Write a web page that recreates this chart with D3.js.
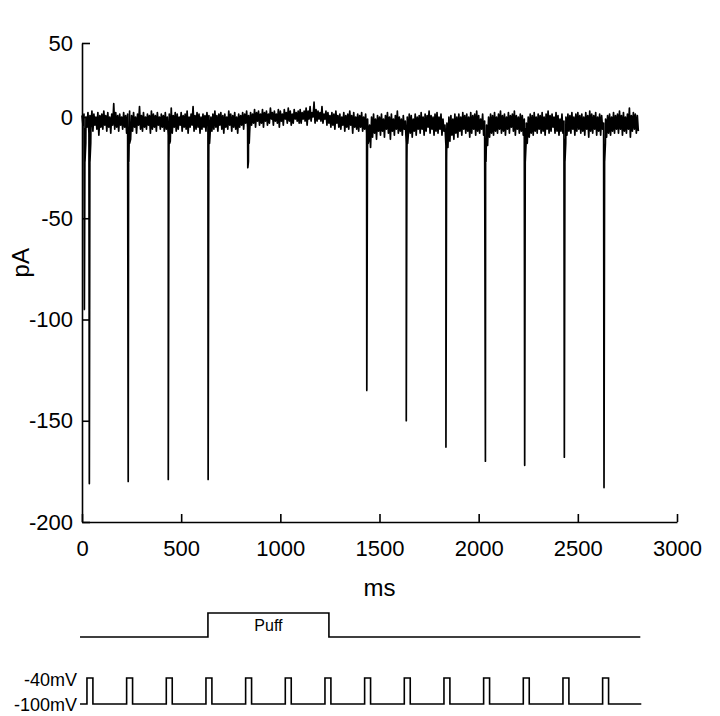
<!DOCTYPE html>
<html>
<head>
<meta charset="utf-8">
<script src="https://cdn.jsdelivr.net/npm/d3@7"></script>
<style>
  body { margin: 0; background: #fff; }
  svg { display: block; font-family: "Liberation Sans", Arial, Helvetica, sans-serif; }
  .axis path, .axis line { stroke: #000; stroke-width: 1.6; }
  .axis text { font-size: 22px; fill: #000; }
</style>
</head>
<body>
<svg id="chart" width="720" height="716"></svg>
<script>
// Holding current (pA), read as local highs and lows every 10 ms from 0 to 2800 ms.
// The trace alternates high (at t) and low (at t + 5 ms).
const sampleStep = 10;
const currentHi = [
  1, 2, 0, 3, 1, 4, 2, 0, 3, 1,
  2, 4, 1, 3, 0, 2, 9, 3, 1, 2,
  0, 3, 1, 2, 4, 1, 3, 0, 2, 7,
  1, 3, 0, 2, 1, 4, 2, 1, 3, 0,
  2, 1, 3, 0, 2, 6, 1, 3, 2, 0,
  3, 1, 2, 4, 0, 2, 7, 1, 3, 2,
  0, 2, 1, 3, 1, 0, 2, 4, 1, 2,
  3, 1, 2, 0, 4, 2, 1, 3, 0, 2,
  1, 3, 2, 4, 1, 3, 2, 5, 3, 4,
  2, 5, 3, 4, 2, 6, 3, 4, 2, 5,
  4, 2, 5, 3, 6, 4, 2, 5, 3, 4,
  5, 3, 4, 6, 4, 7, 3, 10, 5, 4,
  3, 7, 2, 4, 3, 1, 3, 2, 4, 1,
  2, 0, 3, 1, 2, 4, 1, 3, 0, 2,
  1, 3, 0, 2, -1, -4, 0, 2, -1, 1,
  0, 2, -1, 1, 3, 0, 2, -1, 1, 4,
  0, -1, 1, -2, 0, 2, 1, -1, 2, 0,
  1, 3, 0, 2, 1, 4, 1, 0, 2, 3,
  0, 2, -1, -4, -3, 0, 1, -1, 2, 0,
  2, 0, 3, 1, 2, 0, 3, 1, 2, 4,
  1, -1, 2, -2, -4, 0, 2, 1, 3, 0,
  2, 4, 1, 2, 0, 3, 1, 2, 4, 1,
  0, 2, 1, -1, -3, 0, 2, 1, 3, 0,
  2, 1, 3, 0, 2, 4, 1, 2, 0, 3,
  1, -1, 2, -2, 0, 2, 1, 3, 0, 2,
  3, 1, 2, 0, 3, 1, 4, 2, 1, 3,
  0, 2, 1, -3, -1, 1, 2, 0, 3, 1,
  2, 4, 1, 3, 0, 2, 6, 1, 3, 2,
  1
];
const currentLo = [
  -4, -6, -5, -8, -5, -7, -4, -6, -9, -5,
  -6, -4, -7, -5, -8, -4, -6, -5, -7, -4,
  -6, -5, -8, -6, -11, -7, -5, -8, -4, -6,
  -7, -5, -6, -4, -8, -6, -5, -7, -4, -6,
  -5, -7, -6, -9, -12, -8, -5, -7, -6, -4,
  -7, -5, -6, -8, -5, -4, -7, -6, -5, -8,
  -6, -5, -7, -4, -10, -7, -6, -5, -7, -4,
  -6, -8, -5, -6, -4, -7, -5, -6, -8, -5,
  -4, -6, -3, -5, -8, -4, -3, -5, -2, -4,
  -3, -5, -2, -4, -3, -1, -4, -2, -3, -5,
  -2, -4, -1, -3, -2, -4, -3, -1, -2, -3,
  -3, -1, -2, -4, -1, -2, 0, -3, -2, -1,
  -2, -3, -1, -4, -3, -5, -4, -6, -3, -5,
  -6, -4, -7, -5, -6, -4, -8, -5, -6, -7,
  -5, -7, -6, -8, -12, -15, -10, -8, -11, -7,
  -9, -7, -10, -6, -8, -11, -7, -9, -6, -8,
  -7, -9, -6, -13, -9, -8, -10, -7, -9, -6,
  -8, -6, -9, -7, -5, -8, -6, -9, -7, -8,
  -6, -9, -7, -14, -15, -12, -9, -11, -8, -10,
  -7, -9, -6, -8, -7, -10, -8, -6, -9, -7,
  -8, -6, -9, -12, -14, -10, -8, -9, -7, -8,
  -6, -8, -7, -9, -6, -8, -5, -7, -9, -6,
  -8, -7, -9, -6, -13, -10, -8, -9, -7, -8,
  -6, -8, -7, -9, -6, -8, -7, -5, -8, -7,
  -9, -7, -8, -11, -9, -7, -8, -6, -9, -7,
  -6, -8, -7, -9, -6, -10, -7, -8, -6, -9,
  -7, -9, -6, -14, -10, -8, -9, -7, -8, -6,
  -8, -6, -9, -7, -8, -6, -10, -7, -6, -8,
  -7
];

// Inward current spikes: time (ms) and peak (pA), with the slower recovery after each one
const spikeTimes = [12, 37, 233, 435, 636, 836, 1436, 1635, 1835, 2034, 2232, 2432, 2632];
const spikePeaks = [-95, -181, -180, -179, -179, -25, -135, -150, -163, -170, -172, -168, -183];
const tailOffsets = [3, 7];
const tailValues = [-22, -13];

// Axis ticks
const xTicks = [0, 500, 1000, 1500, 2000, 2500, 3000];
const yTicks = [50, 0, -50, -100, -150, -200];

// Puff (ms)
const protocolStart = -10;
const protocolEnd = 2815;
const puffOn = 635;
const puffOff = 1245;

// Voltage steps from -100 mV to -40 mV
const pulseOnsets = [25, 225, 425, 625, 825, 1025, 1225, 1425, 1625, 1825, 2025, 2225, 2425, 2625];
const pulseWidth = 30;
const holdV = -100;
const stepV = -40;

const svg = d3.select('#chart');

const x = d3.scaleLinear().domain([0, 3000]).range([82, 677]);
const y = d3.scaleLinear().domain([-200, 0, 50]).range([522, 117, 43]);

// Axes
svg.append('g')
  .attr('class', 'axis')
  .attr('transform', `translate(0,${y(-200)})`)
  .call(d3.axisBottom(x).tickValues(xTicks).tickFormat(d => String(d))
    .tickSize(-8).tickSizeOuter(0).tickPadding(18));

svg.append('g')
  .attr('class', 'axis')
  .attr('transform', `translate(${x(0)},0)`)
  .call(d3.axisLeft(y).tickValues(yTicks).tickFormat(d => String(d))
    .tickSize(-8).tickSizeOuter(0).tickPadding(9));

svg.selectAll('.axis .domain').attr('stroke-width', 1.8);
svg.selectAll('.axis text').attr('font-family', null);

svg.append('text')
  .attr('x', (x(0) + x(3000)) / 2)
  .attr('y', 596)
  .attr('text-anchor', 'middle')
  .attr('font-size', 24)
  .text('ms');

svg.append('text')
  .attr('transform', `translate(29,${y(-72)}) rotate(-90)`)
  .attr('text-anchor', 'middle')
  .attr('font-size', 24)
  .text('pA');

// Current trace: alternating highs and lows plus spikes, in time order
const points = [];
currentHi.forEach((v, i) => {
  points.push({ t: i * sampleStep, v });
  points.push({ t: i * sampleStep + sampleStep / 2, v: currentLo[i] });
});
spikeTimes.forEach((t, i) => {
  points.push({ t, v: spikePeaks[i] });
  tailOffsets.forEach((dt, j) => points.push({ t: t + dt, v: Math.max(tailValues[j], spikePeaks[i]) }));
});
points.sort((a, b) => a.t - b.t);

svg.append('path')
  .datum(points)
  .attr('fill', 'none')
  .attr('stroke', '#000')
  .attr('stroke-width', 1.7)
  .attr('stroke-linejoin', 'round')
  .attr('d', d3.line().x(d => x(d.t)).y(d => y(d.v)));

// Puff trace
const yPuff = d3.scaleLinear().domain([0, 1]).range([637, 613]);
const puffPts = [
  [protocolStart, 0], [puffOn, 0], [puffOn, 1],
  [puffOff, 1], [puffOff, 0], [protocolEnd, 0]
];
svg.append('path')
  .datum(puffPts)
  .attr('fill', 'none')
  .attr('stroke', '#000')
  .attr('stroke-width', 1.6)
  .attr('d', d3.line().x(d => x(d[0])).y(d => yPuff(d[1])));

svg.append('text')
  .attr('x', x((puffOn + puffOff) / 2))
  .attr('y', yPuff(1) + 18)
  .attr('text-anchor', 'middle')
  .attr('font-size', 16)
  .text('Puff');

// Voltage protocol
const yV = d3.scaleLinear().domain([holdV, stepV]).range([704, 678]);
const vPts = [[protocolStart, holdV]];
pulseOnsets.forEach(t => {
  vPts.push([t, holdV], [t, stepV], [t + pulseWidth, stepV], [t + pulseWidth, holdV]);
});
vPts.push([protocolEnd + 5, holdV]);

svg.append('path')
  .datum(vPts)
  .attr('fill', 'none')
  .attr('stroke', '#000')
  .attr('stroke-width', 1.6)
  .attr('d', d3.line().x(d => x(d[0])).y(d => yV(d[1])));

svg.append('text')
  .attr('x', x(protocolStart) - 3)
  .attr('y', yV(stepV) + 8)
  .attr('text-anchor', 'end')
  .attr('font-size', 18)
  .text('-40mV');

svg.append('text')
  .attr('x', x(protocolStart) - 3)
  .attr('y', yV(holdV) + 7)
  .attr('text-anchor', 'end')
  .attr('font-size', 18)
  .text('-100mV');
</script>
</body>
</html>
